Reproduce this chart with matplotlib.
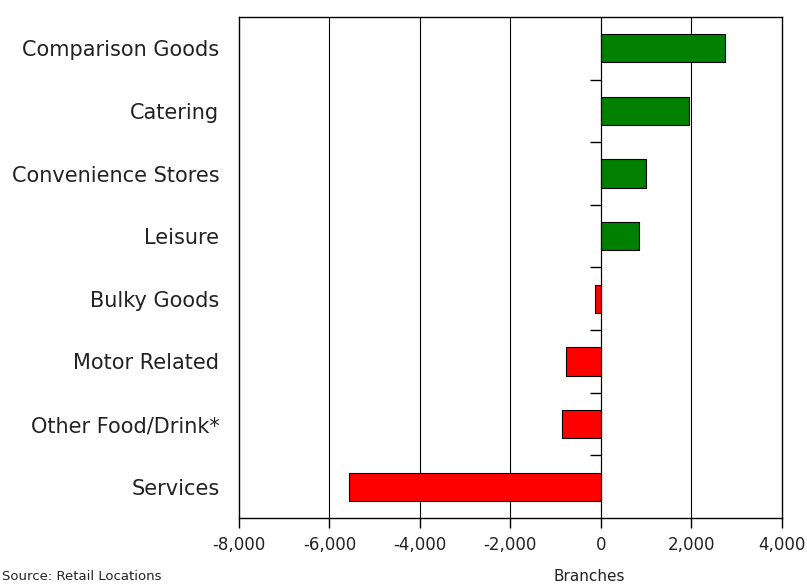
import matplotlib.pyplot as plt
import numpy as np

# data
categories = ['Comparison Goods', 'Catering', 'Convenience Stores', 'Leisure',
              'Bulky Goods', 'Motor Related', 'Other Food/Drink*', 'Services']
values = [2740, 1945, 990, 840, -130, -780, -870, -5570]
xticks = [-8000, -6000, -4000, -2000, 0, 2000, 4000]

plt.rcParams['font.family'] = ['DejaVu Sans']

fig = plt.figure(figsize=(8.07, 5.84), dpi=100)
ax = fig.add_axes([0.296, 0.113, 0.673, 0.858])

y = np.arange(len(categories))
colors = ['#008000' if v > 0 else '#ff0000' for v in values]
ax.barh(y, values, height=0.45, color=colors, edgecolor='black', linewidth=0.8, zorder=3)

ax.set_xlim(-8000, 4000)
ax.set_ylim(len(categories) - 0.5, -0.5)
ax.set_xticks(xticks)
ax.set_xticklabels(['{:,}'.format(t) for t in xticks], fontsize=12, color='#222222')
ax.tick_params(axis='x', direction='out', length=7, width=1, pad=6)
ax.set_yticks(y)
ax.set_yticklabels(categories, fontsize=15, color='#222222')
ax.tick_params(axis='y', length=0, pad=14)
for t in xticks[1:-1]:
    ax.axvline(t, color='black', linewidth=0.8, zorder=1)
for s in ax.spines.values():
    s.set_linewidth(1)

# short ticks on the zero line at the category boundaries
ax2 = ax.twinx()
ax2.set_ylim(ax.get_ylim())
ax2.spines['right'].set_position(('data', 0))
for s in ['left', 'top', 'bottom']:
    ax2.spines[s].set_visible(False)
ax2.set_yticks(y[:-1] + 0.5)
ax2.set_yticklabels([])
ax2.tick_params(axis='y', direction='in', length=8, width=1)

fig.text(0.73, 0.013, 'Branches', fontsize=11, color='#222222', ha='center', va='center')
fig.text(0.003, 0.013, 'Source: Retail Locations', fontsize=9.5, color='#222222', va='center')

fig.savefig('out.png', dpi=100)
